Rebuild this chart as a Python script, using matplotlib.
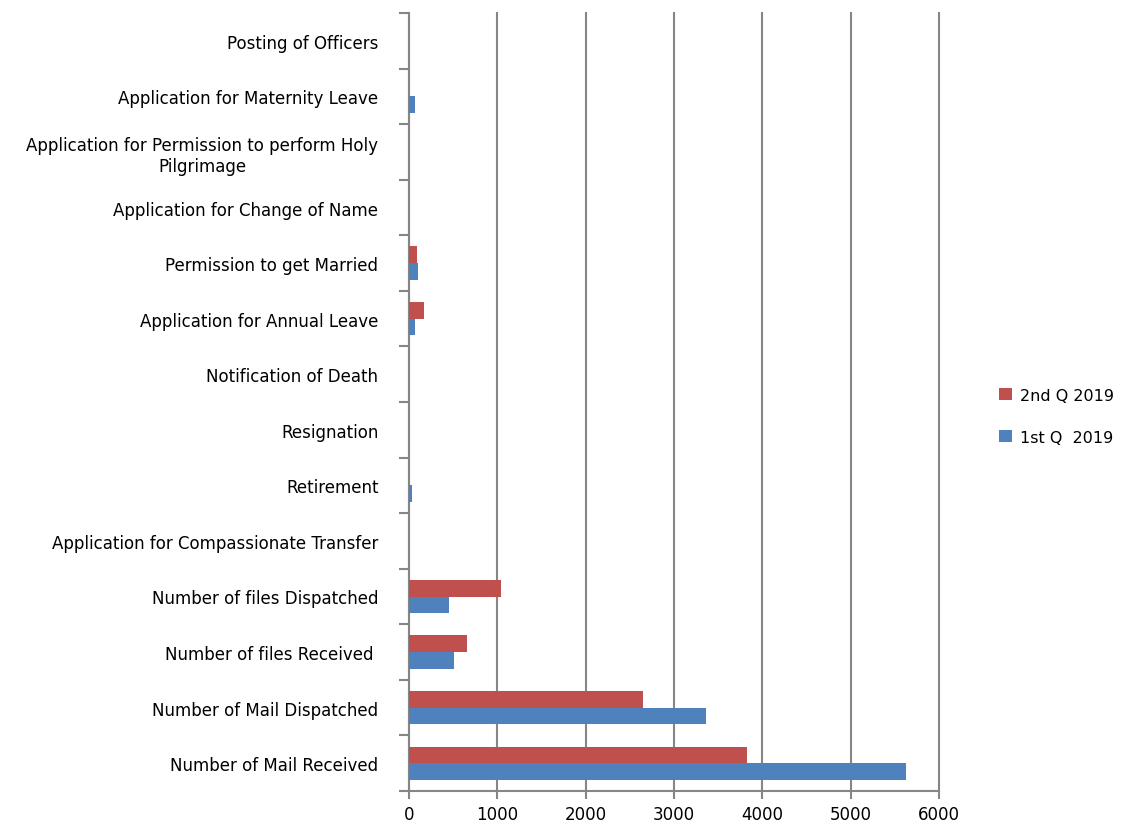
import numpy as np
import matplotlib.pyplot as plt

# categories, bottom to top
categories = [
    "Number of Mail Received",
    "Number of Mail Dispatched",
    "Number of files Received ",
    "Number of files Dispatched",
    "Application for Compassionate Transfer",
    "Retirement",
    "Resignation",
    "Notification of Death",
    "Application for Annual Leave",
    "Permission to get Married",
    "Application for Change of Name",
    "Application for Permission to perform Holy\nPilgrimage",
    "Application for Maternity Leave",
    "Posting of Officers",
]
q1_2019 = [5630, 3360, 510, 455, 0, 35, 0, 0, 65, 100, 0, 0, 70, 0]
q2_2019 = [3830, 2650, 655, 1045, 0, 5, 5, 0, 170, 85, 0, 0, 5, 0]

red = "#c0504d"
blue = "#4f81bd"
grey = "#868686"

fig = plt.figure(figsize=(11.25, 8.28), dpi=100)
ax = fig.add_axes([409 / 1125, 36 / 828, 530 / 1125, 778 / 828])

y = np.arange(len(categories))
h = 0.3
ax.barh(y - h / 2, q1_2019, height=h, color=blue, label="1st Q  2019", zorder=3)
ax.barh(y + h / 2, q2_2019, height=h, color=red, label="2nd Q 2019", zorder=3)

ax.set_xlim(0, 6000)
ax.set_ylim(-0.5, len(categories) - 0.5)
ax.set_xticks(np.arange(0, 6001, 1000))
ax.tick_params(axis="x", length=6, color=grey, width=1.5, labelsize=12, pad=4)
ax.xaxis.grid(True, color=grey, linewidth=1.5, zorder=0)
for gl in ax.get_xgridlines():
    gl.set_clip_on(False)

ax.set_yticks(y)
ax.set_yticklabels(categories, fontsize=12, multialignment="center")
ax.tick_params(axis="y", length=0, pad=22)
ax.set_yticks(np.arange(-0.5, len(categories), 1), minor=True)
ax.tick_params(axis="y", which="minor", length=7, color=grey, width=1.5)

for s in ["top", "right"]:
    ax.spines[s].set_visible(False)
for s in ["left", "bottom"]:
    ax.spines[s].set_color(grey)
    ax.spines[s].set_linewidth(1.5)

handles, labels = ax.get_legend_handles_labels()
fig.legend(handles[::-1], labels[::-1], loc="center left",
           bbox_to_anchor=(985 / 1125, 0.496), frameon=False, fontsize=11.5,
           handlelength=0.8, handleheight=0.8, labelspacing=1.7, handletextpad=0.5)

fig.savefig("out.png", dpi=100)
